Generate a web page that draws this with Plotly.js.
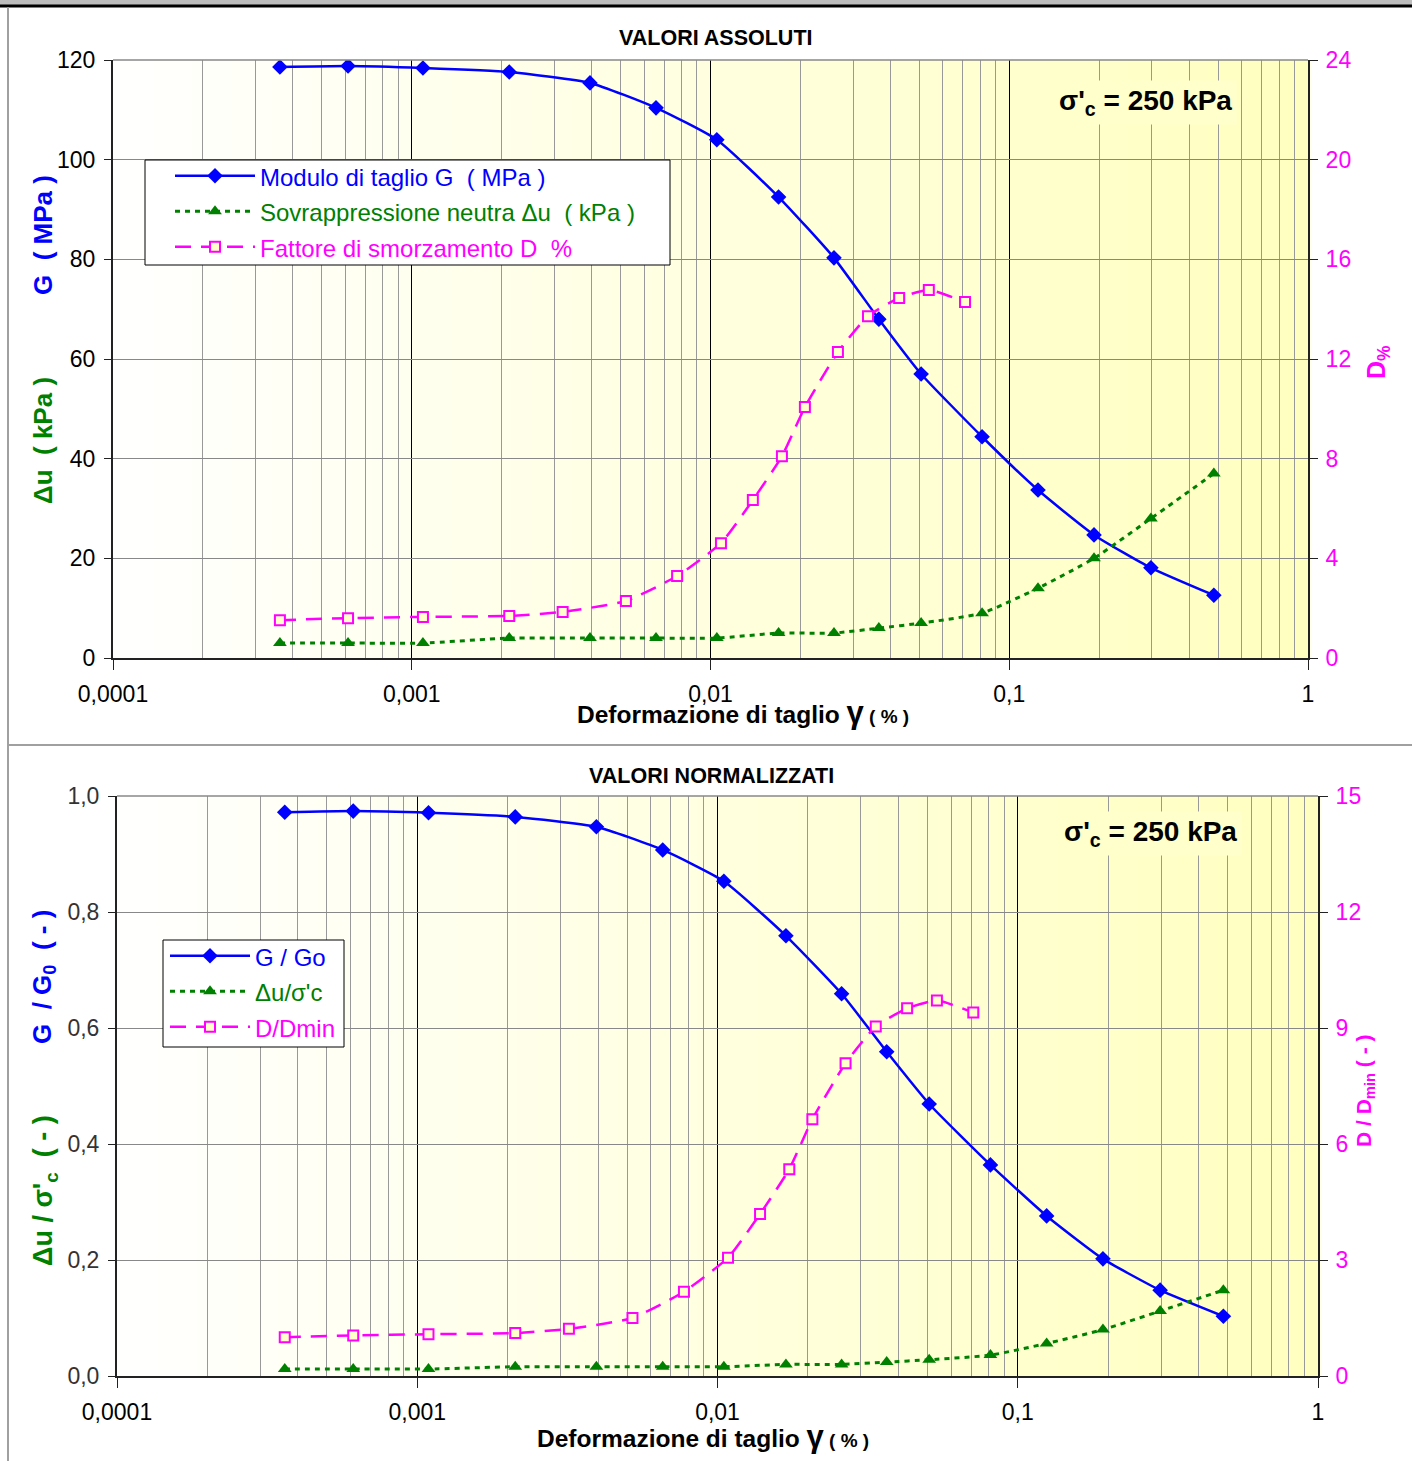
<!DOCTYPE html>
<html><head><meta charset="utf-8">
<script src="https://cdn.plot.ly/plotly-3.0.1.min.js"></script>
<style>body{margin:0;padding:0;background:#fff}#chart{width:1412px;height:1461px}</style>
</head><body><div id="chart"></div>
<script>
// ---------- DATA ----------
const strainG = [3.62e-4, 6.12e-4, 1.09e-3, 2.12e-3, 3.95e-3, 6.57e-3, 0.0105, 0.0169, 0.0259, 0.0366, 0.0507, 0.0811, 0.1248, 0.1922, 0.298, 0.484];
const modG = [118.6, 118.8, 118.4, 117.6, 115.4, 110.4, 104.0, 92.5, 80.3, 68.0, 57.0, 44.4, 33.7, 24.7, 18.1, 12.6];
const deltaU = [3, 3, 3, 4, 4, 4, 4, 5, 5, 6, 7, 9, 14, 20, 28, 37];
const strainD = [3.62e-4, 6.12e-4, 1.09e-3, 2.12e-3, 3.2e-3, 5.21e-3, 7.73e-3, 0.01084, 0.01386, 0.01734, 0.0207, 0.0267, 0.03366, 0.0428, 0.0538, 0.0711];
const dampD = [1.52, 1.60, 1.65, 1.69, 1.85, 2.29, 3.29, 4.61, 6.34, 8.10, 10.07, 12.28, 13.72, 14.45, 14.77, 14.29];

const gOverG0 = [0.972, 0.974, 0.971, 0.964, 0.947, 0.907, 0.853, 0.759, 0.659, 0.559, 0.469, 0.364, 0.276, 0.202, 0.148, 0.103];
const duOverSig = [0.012, 0.012, 0.012, 0.016, 0.016, 0.016, 0.016, 0.020, 0.020, 0.024, 0.028, 0.036, 0.056, 0.080, 0.112, 0.148];
const dOverDmin = [1.00, 1.05, 1.08, 1.11, 1.22, 1.50, 2.18, 3.06, 4.19, 5.35, 6.64, 8.09, 9.04, 9.51, 9.71, 9.40];

const xTickVals = [1e-4, 1e-3, 1e-2, 1e-1, 1];
const xTickText = ['0,0001', '0,001', '0,01', '0,1', '1'];
const yTickValsNorm = [0, 0.2, 0.4, 0.6, 0.8, 1.0];
const yTickTextNorm = ['0,0', '0,2', '0,4', '0,6', '0,8', '1,0'];

const namesTop = ['Modulo di taglio G  ( MPa )', 'Sovrappressione neutra \u0394u  ( kPa )', 'Fattore di smorzamento D  %'];
const namesBot = ['G / Go', '\u0394u/\u03c3\'c', 'D/Dmin'];

// ---------- STYLE ----------
const W = 1412, H = 1461;
const px = v => v / W, py = v => 1 - v / H;
const FONT = 'Liberation Sans, Arial, sans-serif';
const BLUE = '#0000FF', GREEN = '#008000', MAG = '#FF00FF';

const minorVals = [];
[1e-4, 1e-3, 1e-2, 1e-1].forEach(d => { for (let m = 2; m <= 9; m++) minorVals.push(d * m); });

function legName(t, c) { return '<span style="color:' + c + ';font-size:24px">' + t + '</span>'; }

const gLine = {color: BLUE, width: 2.5, shape: 'spline', smoothing: 0.5};
const gMark = {symbol: 'diamond', size: 12, color: BLUE};
const uLine = {color: GREEN, width: 3, dash: '5px,5px', shape: 'spline', smoothing: 0.5};
const uMark = {symbol: 'triangle-up', size: 12, color: GREEN};
const dLine = {color: MAG, width: 2.5, dash: '16px,10px', shape: 'spline', smoothing: 0.5};
const dMark = {symbol: 'square', size: 10, color: '#FFFFCC', line: {color: MAG, width: 2}};

const traces = [
  {x: strainG, y: modG, xaxis: 'x', yaxis: 'y', mode: 'lines+markers', line: gLine, marker: gMark, name: legName(namesTop[0], BLUE), legend: 'legend'},
  {x: strainG, y: deltaU, xaxis: 'x', yaxis: 'y', mode: 'lines+markers', line: uLine, marker: uMark, name: legName(namesTop[1], GREEN), legend: 'legend'},
  {x: strainD, y: dampD, xaxis: 'x', yaxis: 'y2', mode: 'lines+markers', line: dLine, marker: dMark, name: legName(namesTop[2], MAG), legend: 'legend'},
  {x: strainG, y: gOverG0, xaxis: 'x2', yaxis: 'y3', mode: 'lines+markers', line: gLine, marker: gMark, name: legName(namesBot[0], BLUE), legend: 'legend2'},
  {x: strainG, y: duOverSig, xaxis: 'x2', yaxis: 'y3', mode: 'lines+markers', line: uLine, marker: uMark, name: legName(namesBot[1], GREEN), legend: 'legend2'},
  {x: strainD, y: dOverDmin, xaxis: 'x2', yaxis: 'y4', mode: 'lines+markers', line: dLine, marker: dMark, name: legName(namesBot[2], MAG), legend: 'legend2'}
];

function xAxis(dom, anchor) {
  return {
    domain: dom, anchor: anchor, type: 'log', range: [-4, 0],
    tickmode: 'array', tickvals: xTickVals, ticktext: xTickText,
    ticks: 'outside', ticklen: 10, tickcolor: '#222', tickwidth: 1, ticklabelstandoff: 4,
    showgrid: true, gridcolor: '#000', gridwidth: 1,
    minor: {tickmode: 'array', tickvals: minorVals, showgrid: true, gridcolor: '#999', gridwidth: 1, ticks: ''},
    showline: true, linecolor: '#222', linewidth: 2, zeroline: false,
    tickfont: {family: FONT, size: 23, color: '#000'}, fixedrange: true
  };
}
function yLeft(dom, anchor, rng, extra) {
  return Object.assign({
    domain: dom, anchor: anchor, range: rng,
    ticks: 'outside', ticklen: 7, tickcolor: '#222', ticklabelstandoff: 4,
    showgrid: true, gridcolor: '#888', gridwidth: 1,
    showline: true, linecolor: '#222', linewidth: 2, zeroline: false,
    tickfont: {family: FONT, size: 23, color: '#000'}, fixedrange: true
  }, extra);
}
function yRight(over, anchor, rng, dt) {
  return {
    overlaying: over, anchor: anchor, side: 'right', range: rng, dtick: dt, tick0: 0,
    ticks: 'outside', ticklen: 8, tickcolor: '#222', ticklabelstandoff: 3,
    showgrid: false, showline: true, linecolor: '#222', linewidth: 2, zeroline: false,
    tickfont: {family: FONT, size: 23, color: MAG}, fixedrange: true
  };
}

// gradient background strips (styling only)
const shapes = [];
const N = 60;
function addGradient(xr, yr) {
  for (let i = 0; i < N; i++) {
    const t = (i + 0.5) / N;
    const b = Math.round(255 - t * 64);
    shapes.push({type: 'rect', xref: xr + ' domain', yref: yr + ' domain', x0: i / N, x1: (i + 1) / N + 0.002, y0: 0, y1: 1,
      fillcolor: 'rgb(255,255,' + b + ')', line: {width: 0}, layer: 'below'});
  }
  shapes.push({type: 'line', xref: xr + ' domain', yref: yr + ' domain', x0: 0, x1: 1, y0: 1, y1: 1, line: {color: '#888', width: 1.5}, layer: 'above'});
}
addGradient('x', 'y');
addGradient('x2', 'y3');
// legend boxes
function box(x0, y0, x1, y1) {
  shapes.push({type: 'rect', xref: 'paper', yref: 'paper', x0: px(x0), x1: px(x1), y0: py(y1), y1: py(y0),
    fillcolor: '#FFFFFF', line: {color: '#000', width: 1}, layer: 'above'});
}
box(145, 160, 670, 265);
box(163, 940, 344, 1047);
// page frame
shapes.push({type: 'rect', xref: 'paper', yref: 'paper', x0: 0, x1: 1, y0: py(5), y1: 1, fillcolor: '#BDBDBD', line: {width: 0}});
shapes.push({type: 'line', xref: 'paper', yref: 'paper', x0: 0, x1: 1, y0: py(6), y1: py(6), line: {color: '#000', width: 3}});
shapes.push({type: 'line', xref: 'paper', yref: 'paper', x0: px(8), x1: px(8), y0: 0, y1: py(7), line: {color: '#A0A0A0', width: 2}});
shapes.push({type: 'line', xref: 'paper', yref: 'paper', x0: px(8), x1: 1, y0: py(745), y1: py(745), line: {color: '#A0A0A0', width: 2}});

function ann(x, y, text, size, color, extra) {
  return Object.assign({xref: 'paper', yref: 'paper', x: px(x), y: py(y), text: text, showarrow: false,
    font: {family: FONT, size: size, color: color}, xanchor: 'center', yanchor: 'middle'}, extra || {});
}
const xTitle = '<b>Deformazione di taglio <span style="font-size:31px">\u03b3</span></b><b style="font-size:19px"> ( % )</b>';
const annotations = [
  ann(716, 38, '<b>VALORI ASSOLUTI</b>', 21.5, '#000'),
  ann(711, 776, '<b>VALORI NORMALIZZATI</b>', 21.5, '#000'),
  ann(743, 712, xTitle, 24.5, '#000'),
  ann(703, 1436, xTitle, 24.5, '#000'),
  ann(43, 235, '<b>G  ( MPa )</b>', 26, BLUE, {textangle: -90}),
  ann(43, 441, '<b>\u0394u  ( kPa )</b>', 26, GREEN, {textangle: -90}),
  ann(1378, 362, '<b>D<sub>%</sub></b>', 25, MAG, {textangle: -90}),
  ann(43, 977, '<b>G  / G<sub>0</sub>  ( - )</b>', 26, BLUE, {textangle: -90}),
  ann(45, 1191, '<b>\u0394u / \u03c3\'<sub>c</sub>  ( - )</b>', 27, GREEN, {textangle: -90}),
  ann(1365, 1091, '<b>D / D<sub>min</sub> ( - )</b>', 21, MAG, {textangle: -90}),
  ann(1145, 102, '<b>\u03c3\'<sub>c</sub> = 250 kPa</b>', 28, '#000', {bgcolor: '#FFFFCC', borderpad: 4}),
  ann(1150, 833, '<b>\u03c3\'<sub>c</sub> = 250 kPa</b>', 28, '#000', {bgcolor: '#FFFFCC', borderpad: 4})
];

const legBase = {xanchor: 'left', yanchor: 'top', bgcolor: 'rgba(0,0,0,0)', borderwidth: 0,
  font: {family: FONT, size: 25, color: '#000'}, itemwidth: 80, traceorder: 'normal', tracegroupgap: 0};

const layout = {
  width: W, height: H,
  margin: {l: 0, r: 0, t: 0, b: 0},
  paper_bgcolor: '#FFFFFF', plot_bgcolor: 'rgba(0,0,0,0)',
  font: {family: FONT, size: 20, color: '#000'},
  showlegend: true,
  xaxis: xAxis([px(113), px(1308)], 'y'),
  yaxis: yLeft([py(658), py(60)], 'x', [0, 120], {dtick: 20, tick0: 0}),
  yaxis2: yRight('y', 'x', [0, 24], 4),
  xaxis2: xAxis([px(117), px(1318)], 'y3'),
  yaxis3: yLeft([py(1376), py(796)], 'x2', [0, 1], {tickmode: 'array', tickvals: yTickValsNorm, ticktext: yTickTextNorm, tickfont: {family: FONT, size: 23, color: '#333'}}),
  yaxis4: yRight('y3', 'x2', [0, 15], 3),
  legend: Object.assign({}, legBase, {x: px(170), y: py(153)}),
  legend2: Object.assign({}, legBase, {x: px(165), y: py(933)}),
  shapes: shapes,
  annotations: annotations
};

Plotly.newPlot('chart', traces, layout, {displayModeBar: false, staticPlot: true});
</script>
</body></html>
